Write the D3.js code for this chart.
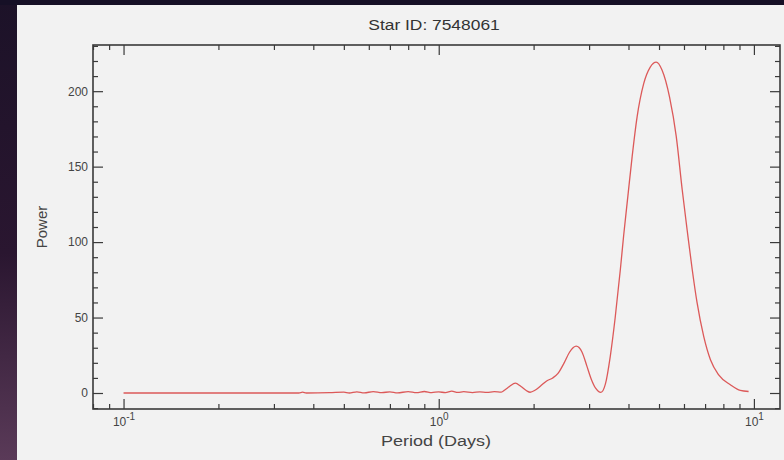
<!DOCTYPE html>
<html><head><meta charset="utf-8">
<script src="https://cdn.jsdelivr.net/npm/d3@7"></script>
<style>
html,body{margin:0;padding:0;background:#1a1228;}
svg{display:block;}
</style></head>
<body>
<svg id="c" width="784" height="460"></svg>
<script>
// ---- data ----
const title = "Star ID: 7548061";
const xLabel = "Period (Days)";
const yLabel = "Power";
const periods = [0.1,0.2,0.3,0.36,0.37,0.38,0.45,0.5,0.52,0.55,0.58,0.62,0.66,0.7,0.74,0.8,0.85,0.9,0.95,1.0,1.05,1.1,1.15,1.2,1.28,1.35,1.42,1.5,1.58,1.62,1.68,1.75,1.82,1.9,1.95,2.02,2.1,2.2,2.3,2.39,2.5,2.6,2.73,2.85,2.95,3.05,3.15,3.27,3.38,3.5,3.63,3.77,3.86,3.98,4.11,4.26,4.47,4.69,4.9,5.11,5.4,5.67,5.92,6.14,6.37,6.6,6.93,7.28,7.73,8.42,9.05,9.62];
const power   = [0,0,0,0,0.6,0,0.2,0.6,0,0.8,0.1,0.9,0.2,0.8,0.1,0.9,0.2,1.0,0.3,0.8,0.2,1.2,0.4,0.9,0.3,0.8,0.4,0.9,0.6,2,4.5,6.5,4.5,1.5,0.5,1.8,4.5,8,10,13,20,27,31,27,18,9,3,0.4,6,24,50,82,104,130,157,183,205,216,219.2,214,196,170,135,108,82,60,37.5,22,12,5.5,1.7,1];
const xMajorTicks = [0.1,1,10];
const xMajorExp = ["-1","0","1"];
const xMinorTicks = [0.08,0.09,0.2,0.3,0.4,0.5,0.6,0.7,0.8,0.9,2,3,4,5,6,7,8,9];
const yMajorTicks = [0,50,100,150,200];
const yMinorTicks = [-10,10,20,30,40,60,70,80,90,110,120,130,140,160,170,180,190,210,220,230];

const svg = d3.select("#c");
const FONT = "Liberation Sans, Arial, sans-serif";
// background
const defs = svg.append("defs");
const g1 = defs.append("linearGradient").attr("id","bg").attr("x1",0).attr("y1",0).attr("x2",0).attr("y2",1);
g1.append("stop").attr("offset","0%").attr("stop-color","#1c1228");
g1.append("stop").attr("offset","55%").attr("stop-color","#2a1630");
g1.append("stop").attr("offset","100%").attr("stop-color","#5a3a58");
svg.append("rect").attr("width",784).attr("height",460).attr("fill","url(#bg)");
svg.append("rect").attr("x",0).attr("y",0).attr("width",784).attr("height",5).attr("fill","#161026");
svg.append("rect").attr("x",17).attr("y",5).attr("width",767).attr("height",455).attr("fill","#f2f2f2");

const L=93, R=780, T=45, B=409;
const x = d3.scaleLog().domain([0.08,12.1]).range([L,R]);
const y = d3.scaleLinear().domain([-10.6,230.6]).range([B,T]);

const frameColor="#3a3a3a";
function styleAxis(g){
  g.select(".domain").remove();
  g.selectAll("line").attr("stroke",frameColor).attr("stroke-width",1.2);
}
// bottom
svg.append("g").attr("transform",`translate(0,${B})`)
  .call(d3.axisBottom(x).tickValues(xMinorTicks).tickSize(-5).tickFormat("")).call(styleAxis);
const bMaj = svg.append("g").attr("transform",`translate(0,${B})`)
  .call(d3.axisBottom(x).tickValues(xMajorTicks).tickSize(-10).tickFormat("")).call(styleAxis);
// top
svg.append("g").attr("transform",`translate(0,${T})`)
  .call(d3.axisTop(x).tickValues(xMinorTicks).tickSize(-5).tickFormat("")).call(styleAxis);
svg.append("g").attr("transform",`translate(0,${T})`)
  .call(d3.axisTop(x).tickValues(xMajorTicks).tickSize(-10).tickFormat("")).call(styleAxis);
// left
svg.append("g").attr("transform",`translate(${L},0)`)
  .call(d3.axisLeft(y).tickValues(yMinorTicks).tickSize(-5).tickFormat("")).call(styleAxis);
const lMaj = svg.append("g").attr("transform",`translate(${L},0)`)
  .call(d3.axisLeft(y).tickValues(yMajorTicks).tickSize(-10).tickPadding(5).tickFormat(d3.format("d")));
lMaj.call(styleAxis);
lMaj.selectAll("text").attr("fill","#444").attr("font-family",FONT).attr("font-size","12px");
// right
svg.append("g").attr("transform",`translate(${R},0)`)
  .call(d3.axisRight(y).tickValues(yMinorTicks).tickSize(-5).tickFormat("")).call(styleAxis);
svg.append("g").attr("transform",`translate(${R},0)`)
  .call(d3.axisRight(y).tickValues(yMajorTicks).tickSize(-10).tickFormat("")).call(styleAxis);

// x major labels 10^n
bMaj.selectAll(".tick").each(function(d,i){
  const t = d3.select(this).append("text").attr("y",17).attr("fill","#444")
    .attr("font-family",FONT).attr("font-size","12px")
    .attr("text-anchor","middle");
  t.append("tspan").text("10");
  t.append("tspan").attr("dy",-6).attr("font-size","10px").text(xMajorExp[i]);
});

// frame
svg.append("rect").attr("x",L).attr("y",T).attr("width",R-L).attr("height",B-T)
  .attr("fill","none").attr("stroke",frameColor).attr("stroke-width",1.6);

// line
const line = d3.line().x((d,i)=>x(periods[i])).y(d=>y(d)).curve(d3.curveMonotoneX);
svg.append("path").datum(power).attr("d",line).attr("fill","none")
  .attr("stroke","#d94848").attr("stroke-width",1.3).attr("stroke-opacity",0.9);

// labels (horizontally stretched like the reference)
const sx = 1.2;
svg.append("text").attr("transform",`translate(434,30) scale(${sx},1)`).attr("text-anchor","middle").attr("fill","#333")
  .attr("font-family",FONT).attr("font-size","14.5px").text(title);
svg.append("text").attr("transform",`translate(436,446) scale(${sx},1)`).attr("text-anchor","middle").attr("fill","#444")
  .attr("font-family",FONT).attr("font-size","15px").text(xLabel);
svg.append("text").attr("transform","translate(47,227) rotate(-90)").attr("text-anchor","middle").attr("fill","#444")
  .attr("font-family",FONT).attr("font-size","15px").text(yLabel);
</script>
</body></html>
